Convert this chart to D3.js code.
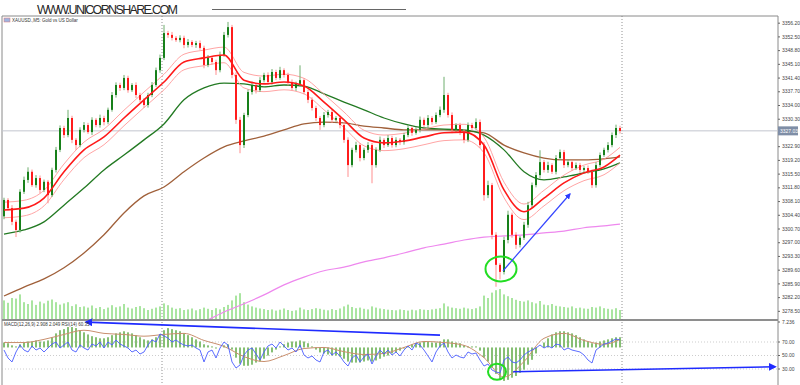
<!DOCTYPE html>
<html>
<head>
<meta charset="utf-8">
<script src="https://cdn.jsdelivr.net/npm/d3@7"></script>
<style>
  body { margin: 0; background: #fff; }
  svg { display: block; font-family: "Liberation Sans", Arial, sans-serif; }
</style>
</head>
<body>
<div id="chart"></div>
<script>
// XAUUSD M5 - bougies (close + mèches), volume, MACD et RSI
const firstOpen = 3304.0
const closes = [
  3308.4,3306.2,3302.5,3300.3,3310.6,3313.8,3316.0,3312.4,3314.3,3311.1,3313.3,3309.7,3316.5,3321.9,3327.8,3325.9,3330.5,3324.6,3323.2,3327.3,
  3328.6,3326.7,3330.0,3328.6,3330.5,3329.4,3332.7,3336.7,3339.4,3338.6,3341.3,3338.0,3339.4,3336.7,3335.4,3334.0,3336.7,3339.4,3343.4,3346.7,
  3353.4,3352.9,3352.1,3351.5,3352.1,3350.2,3351.0,3350.2,3350.7,3349.4,3344.8,3346.7,3345.6,3343.4,3347.5,3352.9,3355.0,3342.1,3330.0,3323.2,
  3331.3,3337.5,3339.4,3338.0,3340.7,3342.1,3340.2,3342.9,3341.3,3343.4,3342.1,3340.2,3338.6,3339.7,3340.7,3337.5,3335.4,3333.2,3330.5,3328.6,
  3331.3,3332.1,3330.0,3330.5,3328.6,3324.6,3317.8,3321.9,3323.2,3319.7,3321.9,3323.2,3317.8,3321.9,3324.6,3323.2,3325.1,3323.2,3324.6,3324.0,
  3325.9,3327.8,3326.5,3327.3,3330.0,3328.6,3330.5,3329.4,3331.3,3332.7,3336.7,3331.3,3327.3,3328.6,3326.7,3324.6,3328.6,3327.8,3329.4,3323.2,
  3309.7,3312.4,3299.0,3290.9,3289.0,3297.6,3304.4,3299.0,3296.3,3298.2,3301.7,3307.0,3312.4,3315.1,3318.6,3316.5,3317.8,3316.0,3319.7,3321.3,
  3317.8,3318.6,3317.0,3317.8,3316.5,3317.0,3316.0,3312.4,3317.8,3320.5,3321.9,3323.2,3325.9,3327.8,3327.0
]
const upperWicks = [
  0.6,0.5,0.8,0.6,0.7,0.9,1.2,0.6,0.8,0.7,0.6,0.5,0.6,0.8,0.7,0.6,2.2,0.6,0.5,0.7,
  0.8,0.6,0.7,0.5,0.9,0.6,0.6,0.8,0.7,0.6,0.8,0.6,0.5,0.7,0.6,0.5,0.6,0.8,0.7,0.9,
  2.2,0.6,0.8,0.5,0.7,0.6,0.8,0.5,0.6,0.7,0.6,0.8,0.5,0.6,0.9,0.8,1.4,0.6,0.7,0.8,
  0.6,0.7,0.9,0.5,0.8,0.6,0.7,0.8,0.6,0.9,0.5,0.6,0.7,0.6,4.0,0.5,0.6,0.7,0.6,0.5,
  0.8,0.6,0.7,0.5,0.6,0.8,0.7,0.6,0.9,0.5,0.6,0.8,0.6,0.7,0.9,0.5,0.8,0.6,0.7,0.5,
  0.6,0.8,0.5,0.7,0.9,0.6,0.8,0.5,0.7,0.9,4.9,0.6,0.7,0.5,0.6,0.8,0.7,0.6,1.0,0.7,
  0.8,1.2,0.6,0.7,0.5,0.9,1.1,0.6,0.7,0.5,0.8,0.9,0.7,0.8,3.2,0.6,0.9,0.5,0.8,0.7,
  0.6,0.8,0.5,0.7,0.6,0.5,0.7,0.6,0.8,0.7,0.6,0.8,0.7,0.9,0.6
]
const lowerWicks = [
  0.8,0.6,0.9,1.9,0.7,0.6,0.8,0.5,0.7,0.9,0.6,2.2,0.5,0.7,0.6,0.8,0.6,0.9,1.3,0.6,
  0.7,0.5,0.8,0.6,0.7,0.9,0.6,0.5,0.7,0.8,0.6,0.7,0.5,0.8,0.6,0.8,0.7,0.6,0.5,0.7,
  0.6,0.8,0.7,0.5,0.6,0.9,0.7,0.6,0.8,0.5,0.9,0.6,0.7,1.3,0.6,0.5,0.7,0.9,1.1,2.2,
  0.8,0.6,0.7,0.9,0.5,0.6,0.8,0.7,0.6,0.5,0.7,0.9,0.6,0.8,0.7,0.6,0.9,0.7,0.8,1.3,
  0.6,0.7,0.8,0.5,0.9,0.8,3.2,0.6,0.7,0.9,0.6,0.8,4.9,0.7,0.6,0.8,0.5,0.7,0.6,0.8,
  0.7,0.6,0.8,0.5,0.7,0.6,0.9,0.7,0.5,0.6,0.8,0.7,0.9,0.6,0.8,0.9,0.6,0.7,0.5,0.8,
  1.5,0.8,1.2,5.9,2.0,0.7,0.9,0.8,1.1,0.7,0.6,0.8,0.7,0.6,0.9,0.7,0.8,0.6,0.7,0.5,
  0.8,0.6,0.7,0.5,0.8,0.7,0.6,0.8,0.7,0.6,0.5,0.7,0.6,0.8,0.7
]
const volumes = [
  620,540,700,680,820,560,500,620,470,580,520,610,650,560,480,520,560,430,490,400,
  420,380,450,360,400,330,380,460,390,420,500,380,350,400,430,360,300,340,380,420,
  520,460,380,340,360,300,320,350,290,330,380,340,300,360,320,400,470,620,780,860,
  560,480,420,380,350,330,300,320,280,310,350,300,270,290,380,320,300,330,360,340,
  310,290,330,300,350,420,480,400,360,380,340,320,420,380,350,330,310,300,290,320,
  300,280,310,290,330,310,300,320,340,360,520,420,380,360,340,380,350,330,360,420,
  780,700,880,960,1000,820,760,700,640,600,580,620,560,520,600,480,460,500,440,420,
  400,380,420,360,380,350,340,400,380,420,360,340,320,360,300
]
const macdHist = [
  1.4,1.2,0.6,0.3,0.9,1.4,1.7,1.7,2.0,1.7,1.7,2.0,2.9,4.0,4.9,5.2,5.8,5.8,5.5,4.9,
  4.3,3.7,3.2,2.9,2.6,2.6,2.9,3.5,4.0,4.3,4.6,4.3,4.0,3.5,2.9,2.3,2.0,2.3,2.9,3.7,
  4.9,5.5,5.2,4.9,4.6,4.0,3.5,2.9,2.3,1.7,0.9,0.6,0.3,-0.3,0.0,0.6,0.9,-0.6,-2.9,-4.6,
  -5.2,-5.2,-4.9,-4.3,-4.0,-3.2,-2.3,-1.4,-0.6,0.3,0.9,1.4,1.7,1.7,2.0,1.7,1.2,0.3,-0.6,-1.4,
  -1.7,-2.0,-2.3,-2.3,-2.6,-3.2,-4.0,-4.3,-4.3,-4.3,-4.0,-3.7,-4.0,-3.7,-3.2,-2.6,-2.3,-1.7,-1.4,-0.9,
  -0.3,0.3,0.9,1.2,1.4,1.7,1.7,1.4,1.4,1.7,2.3,2.3,1.7,1.4,1.2,0.6,0.3,0.3,0.3,-0.9,
  -2.9,-4.0,-5.8,-7.5,-9.2,-9.5,-9.2,-8.6,-8.1,-7.2,-6.3,-4.9,-3.5,-1.7,0.0,1.4,2.6,3.7,4.3,4.6,
  4.6,4.3,4.0,3.5,2.9,2.3,1.7,1.2,1.4,1.7,2.0,2.3,2.6,2.9,2.9
]
const rsiValues = [
  58.1,46.3,40.4,55.2,65.6,58.1,55.2,64.1,58.1,61.1,55.2,61.1,67.0,70.0,61.1,65.6,70.0,58.1,55.2,65.6,
  61.1,58.1,67.0,64.1,70.0,61.1,70.0,65.6,73.0,67.0,64.1,61.1,55.2,58.1,52.2,55.2,65.6,73.0,70.0,81.9,
  78.9,75.9,70.0,73.0,68.5,65.6,64.1,65.6,61.1,58.1,40.4,55.2,58.1,46.3,61.1,70.0,65.6,40.4,31.5,35.9,
  50.7,58.1,61.1,52.2,43.3,55.2,64.1,67.0,61.1,70.0,64.1,58.1,61.1,55.2,65.6,50.7,46.3,49.3,43.3,40.4,
  55.2,58.1,50.7,55.2,49.3,40.4,34.4,46.3,50.7,40.4,47.8,52.2,37.4,49.3,58.1,52.2,58.1,50.7,55.2,49.3,
  58.1,64.1,58.1,68.5,65.6,58.1,49.3,40.4,55.2,64.1,68.5,55.2,46.3,50.7,47.8,46.3,55.2,52.2,53.7,43.3,
  34.4,37.4,28.5,25.6,24.1,43.3,47.8,40.4,38.9,43.3,50.7,55.2,58.1,61.1,65.6,61.1,64.1,61.1,67.0,65.6,
  58.1,61.1,58.1,56.7,55.2,50.7,43.3,38.9,58.1,62.6,67.0,68.5,71.5,74.4,73.0
]

// Moyennes mobiles relevées toutes les 5 bougies
const maIndex = [0,5,10,15,20,25,30,35,40,45,50,55,60,65,70,75,80,85,90,95,100,105,110,115,120,125,130,135,140,145,150,154]
const emaRed = [3305.7,3306.2,3308.9,3316.0,3321.9,3325.4,3330.5,3335.4,3340.2,3345.6,3346.7,3347.5,3340.7,3339.7,3340.2,3339.1,
  3334.8,3330.0,3325.1,3323.8,3324.3,3325.4,3326.5,3326.7,3323.2,3311.1,3305.2,3308.9,3313.0,3315.7,3317.3,3320.5]
const envelopeDev = 2.1
const smaGreen = [3299.2,3300.3,3302.5,3307.0,3311.6,3316.5,3320.5,3324.6,3328.9,3335.4,3338.6,3339.9,3339.7,3338.9,3339.4,3339.1,
  3337.0,3334.8,3332.7,3330.5,3328.9,3327.8,3327.5,3327.3,3325.9,3321.9,3316.0,3313.8,3314.6,3315.7,3316.8,3318.4]
const smaBrown = [3282.5,3284.9,3287.1,3290.1,3294.1,3299.0,3304.9,3309.5,3311.9,3316.0,3319.7,3322.7,3324.3,3325.6,3327.3,3328.9,
  3329.4,3329.2,3328.3,3327.8,3327.3,3327.3,3327.3,3327.0,3326.5,3323.2,3321.1,3319.7,3319.2,3319.2,3319.5,3320.0]
const smaPink = [null,null,null,null,null,null,null,null,null,3272.8,3275.5,3278.2,3280.4,3282.8,3285.5,3287.6,
  3289.3,3290.3,3291.7,3292.8,3294.1,3295.5,3296.5,3297.6,3298.4,3298.7,3299.0,3299.5,3300.0,3300.9,3301.4,3301.9]
const macdSignal = [1.4,1.4,2.3,3.7,4.9,4.0,3.7,3.2,3.7,4.0,2.0,0.3,-2.6,-4.0,-2.3,-0.3,
  0.0,-1.2,-2.0,-1.7,0.0,1.7,1.4,0.6,-2.9,-8.4,-4.0,2.6,4.0,2.0,0.9,2.3]

// Graduations (3326.60 est masqué par l'étiquette du dernier prix)
const priceTicks = [3278.5,3282.2,3285.9,3289.6,3293.3,3297.0,3300.7,3304.4,3308.1,3311.8,3315.5,3319.2,
  3322.9,3330.3,3334.0,3337.7,3341.4,3345.1,3348.8,3352.5,3356.2]
const rsiLevels = [70, 50, 30]
const macdTop = 7.236
const lastPrice = 3327.03
const separatorBars = [39.5, 154.5]

// Annotations (en unités du graphique)
const priceArrow = { i1: 124.75, p1: 3289.3, i2: 141.5, p2: 3310.0 }
const priceCircle = { i: 124.25, p: 3289.8 }
const macdArrows = [
  { i1: 109, m1: 3.5, i2: 20.5, m2: 7.2 },
  { i1: 127.3, m1: -6.9, i2: 192.8, m2: -5.5 }
]
const macdCircle = { i: 123.25, m: -6.9 }

// Dimensions
const width = 800
const height = 385
const left = 2, right = 778
const mainTop = 16, mainBottom = 319
const subTop = 321, subBottom = 384

const svg = d3.select("#chart")
  .append("svg")
    .attr("width", width)
    .attr("height", height)

// Echelles
const x = d3.scaleLinear().domain([0, closes.length - 1]).range([4, 620])
const y = d3.scaleLinear().domain([3276.3, 3358.0]).range([mainBottom, mainTop])
const yVol = d3.scaleLinear().domain([0, 1000]).range([mainBottom, mainBottom - 30])
const yMacd = d3.scaleLinear().domain([-10.1, macdTop]).range([383, 322])
const yRsi = d3.scaleLinear().domain([30, 70]).range([369, 342])

// Zones de découpe
const defs = svg.append("defs")
defs.append("clipPath").attr("id", "clipMain").append("rect")
  .attr("x", left).attr("y", mainTop).attr("width", right - left).attr("height", mainBottom - mainTop)
defs.append("clipPath").attr("id", "clipSub").append("rect")
  .attr("x", left).attr("y", subTop).attr("width", right - left).attr("height", subBottom - subTop)
function marker(id, color) {
  defs.append("marker")
    .attr("id", id)
    .attr("viewBox", "0 0 10 10")
    .attr("refX", 8).attr("refY", 5)
    .attr("markerWidth", 5).attr("markerHeight", 5)
    .attr("orient", "auto")
    .append("path")
      .attr("d", "M0,0 L10,5 L0,10 z")
      .attr("fill", color)
}
marker("arrowMain", "#2d3cff")
marker("arrowSub", "#1f2bff")

// En-tête
svg.append("text")
  .attr("x", 37).attr("y", 14)
  .attr("font-size", 12.5)
  .attr("textLength", 141)
  .attr("lengthAdjust", "spacing")
  .attr("fill", "#262626")
  .text("WWW.UNICORNSHARE.COM")
svg.append("line")
  .attr("x1", 212).attr("x2", 406).attr("y1", 9.5).attr("y2", 9.5)
  .attr("stroke", "#666").attr("stroke-width", 1)

// Cadre
svg.append("path")
  .attr("d", `M${left},${height} V${mainTop} H${right} V${height}`)
  .attr("fill", "none").attr("stroke", "#8a8a8a").attr("stroke-width", 1)
svg.append("rect")
  .attr("x", left).attr("y", mainBottom).attr("width", right - left).attr("height", 2)
  .attr("fill", "#8e8e8e")

// Titre du symbole
svg.append("rect").attr("x", 4).attr("y", 18).attr("width", 6).attr("height", 4)
  .attr("fill", "#9fb4e0").attr("stroke", "#d77").attr("stroke-width", 0.5)
svg.append("text").attr("x", 12).attr("y", 21.5)
  .attr("font-size", 4.5).attr("fill", "#333")
  .text("XAUUSD.,M5:  Gold vs US Dollar")

// Séparateurs de période
svg.append("g").selectAll("line")
  .data(separatorBars)
  .join("line")
    .attr("x1", d => x(d)).attr("x2", d => x(d))
    .attr("y1", mainTop).attr("y2", height)
    .attr("stroke", "#777").attr("stroke-width", 0.8)
    .attr("stroke-dasharray", "1,2")

// Ligne du dernier prix
svg.append("line")
  .attr("x1", left).attr("x2", right)
  .attr("y1", y(lastPrice)).attr("y2", y(lastPrice))
  .attr("stroke", "#c3c6cf").attr("stroke-width", 1)

const main = svg.append("g").attr("clip-path", "url(#clipMain)")

const candles = closes.map(function(c, i) {
  const o = i === 0 ? firstOpen : closes[i - 1]
  return { i: i, o: o, c: c, h: Math.max(o, c) + upperWicks[i], l: Math.min(o, c) - lowerWicks[i], v: volumes[i] }
})

// Volumes
main.append("g").selectAll("rect")
  .data(candles)
  .join("rect")
    .attr("x", d => x(d.i) - 1)
    .attr("width", 2)
    .attr("y", d => yVol(d.v))
    .attr("height", d => mainBottom - yVol(d.v))
    .attr("fill", "#a9e5a0")

// Courbes de moyennes
const maLine = d3.line()
  .defined(d => d.v != null)
  .x(d => x(d.i))
  .curve(d3.curveMonotoneX)
function series(values, shift) {
  return values.map((v, k) => ({ i: maIndex[k], v: v == null ? null : v + (shift || 0) }))
}
main.append("path").datum(series(smaPink))
  .attr("d", maLine.y(d => y(d.v)))
  .attr("fill", "none").attr("stroke", "#ee88ee").attr("stroke-width", 1.2)
main.append("path").datum(series(smaBrown))
  .attr("d", maLine.y(d => y(d.v)))
  .attr("fill", "none").attr("stroke", "#a0603a").attr("stroke-width", 1.3)
main.append("path").datum(series(smaGreen))
  .attr("d", maLine.y(d => y(d.v)))
  .attr("fill", "none").attr("stroke", "#237a23").attr("stroke-width", 1.3)
main.append("path").datum(series(emaRed, envelopeDev))
  .attr("d", maLine.y(d => y(d.v)))
  .attr("fill", "none").attr("stroke", "#ff9a9a").attr("stroke-width", 0.9)
main.append("path").datum(series(emaRed, -envelopeDev))
  .attr("d", maLine.y(d => y(d.v)))
  .attr("fill", "none").attr("stroke", "#ff9a9a").attr("stroke-width", 0.9)

// Bougies
const candleG = main.append("g")
candleG.selectAll("line")
  .data(candles)
  .join("line")
    .attr("x1", d => x(d.i)).attr("x2", d => x(d.i))
    .attr("y1", d => y(d.h)).attr("y2", d => y(d.l))
    .attr("stroke", d => d.c >= d.o ? "#6fae6f" : "#ff8f8f")
    .attr("stroke-width", 1)
candleG.selectAll("rect")
  .data(candles)
  .join("rect")
    .attr("x", d => x(d.i) - 1)
    .attr("width", 2)
    .attr("y", d => y(Math.max(d.o, d.c)))
    .attr("height", d => Math.max(1, Math.abs(y(d.o) - y(d.c))))
    .attr("fill", d => d.c >= d.o ? "#17801a" : "#ff1c1c")

main.append("path").datum(series(emaRed))
  .attr("d", maLine.y(d => y(d.v)))
  .attr("fill", "none").attr("stroke", "#ff1a1a").attr("stroke-width", 1.6)

// Annotations du graphique principal
main.append("ellipse")
  .attr("cx", x(priceCircle.i)).attr("cy", y(priceCircle.p))
  .attr("rx", 15.5).attr("ry", 12.5)
  .attr("fill", "none").attr("stroke", "#22dd22").attr("stroke-width", 2)
main.append("line")
  .attr("x1", x(priceArrow.i1)).attr("y1", y(priceArrow.p1))
  .attr("x2", x(priceArrow.i2)).attr("y2", y(priceArrow.p2))
  .attr("stroke", "#3344ff").attr("stroke-width", 1.2)
  .attr("marker-end", "url(#arrowMain)")

// Axe des prix
const priceAxis = svg.append("g")
  .attr("transform", `translate(${right},0)`)
  .call(d3.axisRight(y).tickValues(priceTicks).tickFormat(d3.format(".2f")).tickSize(2).tickPadding(2))
priceAxis.select(".domain").remove()
priceAxis.selectAll("text").attr("font-size", 5).attr("fill", "#444").attr("font-family", "Liberation Sans, Arial")
priceAxis.selectAll("line").attr("stroke", "#666")

svg.append("rect")
  .attr("x", right).attr("y", y(lastPrice) - 4.5)
  .attr("width", 20).attr("height", 9)
  .attr("fill", "#7f8ea6")
svg.append("text")
  .attr("x", right + 2).attr("y", y(lastPrice) + 1.8)
  .attr("font-size", 5).attr("fill", "#fff")
  .text(d3.format(".2f")(lastPrice))

// Sous-fenêtre MACD + RSI
const sub = svg.append("g").attr("clip-path", "url(#clipSub)")

sub.append("g").selectAll("line")
  .data(rsiLevels)
  .join("line")
    .attr("x1", left).attr("x2", right)
    .attr("y1", d => yRsi(d)).attr("y2", d => yRsi(d))
    .attr("stroke", "#b8b8b8").attr("stroke-width", 0.7)
    .attr("stroke-dasharray", "1,2")

sub.append("g").selectAll("rect")
  .data(macdHist)
  .join("rect")
    .attr("x", (d, i) => x(i) - 1)
    .attr("width", 2)
    .attr("y", d => yMacd(Math.max(0, d)))
    .attr("height", d => Math.abs(yMacd(d) - yMacd(0)))
    .attr("fill", "#86bf74")

sub.append("path").datum(series(macdSignal))
  .attr("d", maLine.y(d => yMacd(d.v)))
  .attr("fill", "none").attr("stroke", "#c98f6e").attr("stroke-width", 1)

sub.append("path").datum(rsiValues.map((v, i) => ({ i: i, v: v })))
  .attr("d", d3.line().x(d => x(d.i)).y(d => yRsi(d.v)))
  .attr("fill", "none").attr("stroke", "#4a5cff").attr("stroke-width", 0.9)

sub.append("ellipse")
  .attr("cx", x(macdCircle.i)).attr("cy", yMacd(macdCircle.m))
  .attr("rx", 9).attr("ry", 8)
  .attr("fill", "none").attr("stroke", "#22dd22").attr("stroke-width", 2)

svg.append("g").selectAll("line")
  .data(macdArrows)
  .join("line")
    .attr("x1", d => x(d.i1)).attr("y1", d => yMacd(d.m1))
    .attr("x2", d => x(d.i2)).attr("y2", d => yMacd(d.m2))
    .attr("stroke", "#1f2bff").attr("stroke-width", 1.6)
    .attr("marker-end", "url(#arrowSub)")

svg.append("text")
  .attr("x", 4).attr("y", 326)
  .attr("font-size", 4.5).attr("fill", "#333")
  .text("MACD(12,26,9) 2.908 2.049 RSI(14) 60.35")

// Graduations de la sous-fenêtre
const subLabels = [{ y: yMacd(macdTop), t: d3.format(".3f")(macdTop) }]
  .concat(rsiLevels.map(r => ({ y: yRsi(r), t: d3.format(".2f")(r) })))
const subAxis = svg.append("g")
subAxis.selectAll("line")
  .data(subLabels)
  .join("line")
    .attr("x1", right).attr("x2", right + 2)
    .attr("y1", d => d.y).attr("y2", d => d.y)
    .attr("stroke", "#666")
subAxis.selectAll("text")
  .data(subLabels)
  .join("text")
    .attr("x", right + 4).attr("y", d => d.y + 1.7)
    .attr("font-size", 5).attr("fill", "#444")
    .text(d => d.t)
</script>
</body>
</html>
